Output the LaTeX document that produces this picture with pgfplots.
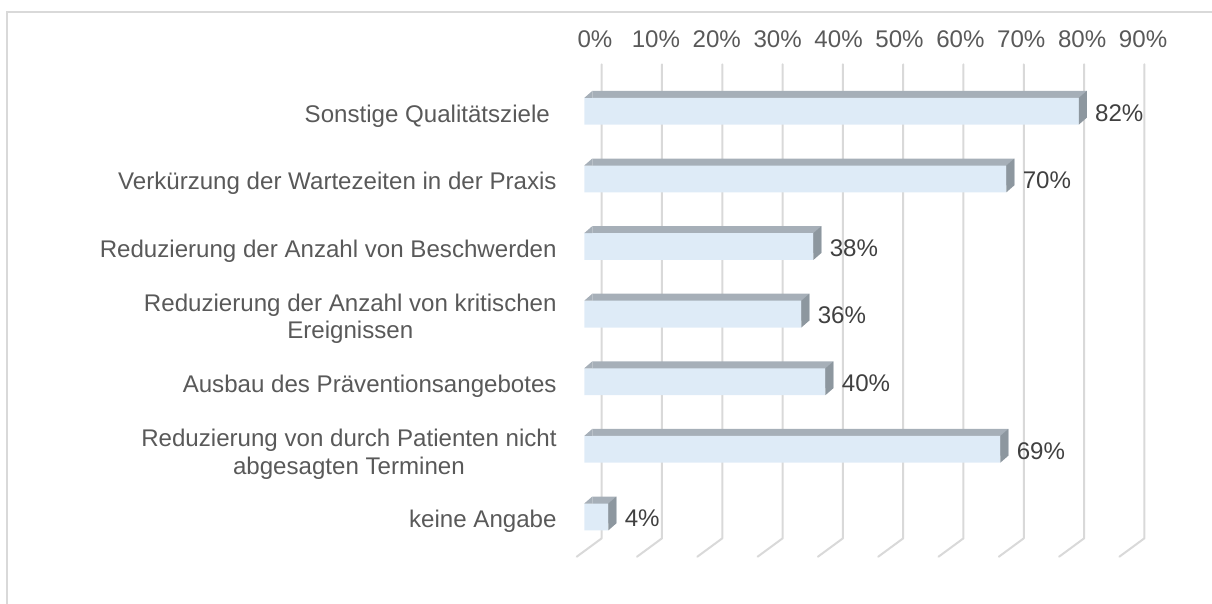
\documentclass[border=0pt]{standalone}
\usepackage{pgfplots}
\pgfplotsset{compat=1.18}
\usepackage{pgfplotstable}
\usepackage{fontspec}
\setmainfont{Liberation Sans}
\definecolor{frontblue}{HTML}{DEEBF7}
\definecolor{topgray}{HTML}{A6AFB8}
\definecolor{sidegray}{HTML}{8D979F}
\definecolor{gridcol}{HTML}{D9D9D9}
\definecolor{labcol}{HTML}{595959}
\definecolor{datcol}{HTML}{404040}
\pgfdeclareplotmark{tlcorner}{%
  \pgfpathmoveto{\pgfqpoint{0pt}{6.7pt}}%
  \pgfpathlineto{\pgfqpoint{4pt}{6.7pt}}%
  \pgfpathlineto{\pgfqpoint{4pt}{10.2pt}}%
  \pgfpathclose\pgfusepathqfill}
\pgfdeclareplotmark{sideface}{%
  \pgfpathmoveto{\pgfqpoint{0pt}{-6.7pt}}%
  \pgfpathlineto{\pgfqpoint{4pt}{-3.2pt}}%
  \pgfpathlineto{\pgfqpoint{4pt}{10.2pt}}%
  \pgfpathlineto{\pgfqpoint{0pt}{6.7pt}}%
  \pgfpathclose\pgfusepathqfill}
\pgfplotstableread{
idx val
0 82
1 70
2 38
3 36
4 40
5 69
6 4
}\datatable
\newcommand\chfont{\fontsize{12.05}{13.9}\selectfont}
\begin{document}
\begin{tikzpicture}
\begin{axis}[
  at={(292.15pt,-38.75pt)}, anchor=north west,
  scale only axis, width=286.43pt, height=236.6pt,
  xmin=0, xmax=95, ymin=-0.5, ymax=6.5, y dir=reverse,
  clip=false,
  axis line style={draw=none},
  major tick length=0pt, tick style={draw=none},
  /pgf/number format/assume math mode=true,
  xticklabel pos=upper,
  xtick={1.77,11.87,21.97,32.07,42.17,52.27,62.37,72.47,82.57,92.67},
  xticklabels={0\%,10\%,20\%,30\%,40\%,50\%,60\%,70\%,80\%,90\%},
  xticklabel style={anchor=base, yshift=15.1pt, inner sep=0pt, font=\chfont, text=labcol},
  ytick={0,...,6},
  yticklabels={Sonstige Qualitätsziele\kern0.28em,
    Verkürzung der Wartezeiten in der Praxis,
    Reduzierung der Anzahl von Beschwerden,
    Reduzierung der Anzahl von kritischen\\Ereignissen,
    Ausbau des Präventionsangebotes,
    Reduzierung von durch Patienten nicht\\abgesagten Terminen,
    keine Angabe},
  yticklabel style={align=center, anchor=east, inner sep=0pt, xshift=-13.65pt, yshift=-2.3pt, font=\chfont, text=labcol},
]
\pgfplotsinvokeforeach{0,10,20,30,40,50,60,70,80,90}{%
  \draw[gridcol, line width=1pt, line cap=round, line join=round]
    (axis cs:#1+2.886,-0.695) -- (axis cs:#1+2.886,6.317) -- (axis cs:#1-1.26,6.589);
}
\addplot[xbar, bar shift=0pt, bar width=13.4pt, fill=topgray, draw=none, xshift=4pt, yshift=3.5pt]
  table[x=val, y=idx]{\datatable};
\addplot[only marks, mark=tlcorner, mark options={fill=topgray, draw=none}]
  table[x expr=0, y=idx]{\datatable};
\addplot[only marks, mark=sideface, mark options={fill=sidegray, draw=none}]
  table[x=val, y=idx]{\datatable};
\addplot[xbar, bar shift=0pt, bar width=13.4pt, fill=frontblue, draw=none,
  point meta=x,
  nodes near coords={\pgfmathprintnumber{\pgfplotspointmeta}\%},
  nodes near coords style={anchor=west, inner sep=0pt, xshift=8pt, yshift=-0.8pt, font=\chfont, text=datcol}]
  table[x=val, y=idx]{\datatable};
\end{axis}
\draw[gridcol, line width=1pt] (3.35pt,-330pt) -- (3.35pt,-6.15pt) -- (640pt,-6.15pt);
\pgfresetboundingbox
\path[use as bounding box] (0,0) rectangle (606pt,-302pt);
\end{tikzpicture}
\end{document}
